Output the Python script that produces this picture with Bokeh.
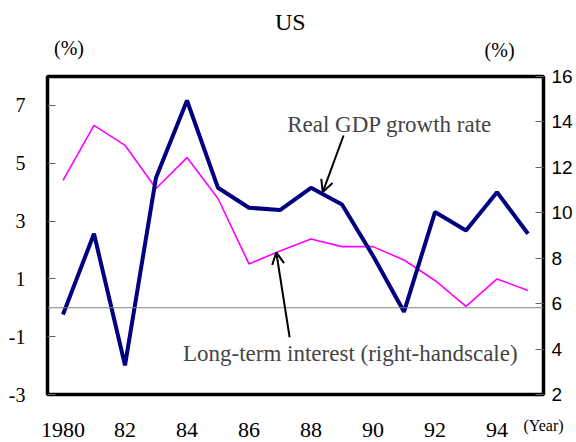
from bokeh.plotting import figure
from bokeh.layouts import column
from bokeh.models import (Range1d, LinearAxis, FixedTicker, Span, Label, Arrow,
                          OpenHead, ColumnDataSource)
from bokeh.core.properties import value
from bokeh.embed import file_html
from bokeh.resources import INLINE

years = list(range(1980, 1996))
gdp_growth = [-0.23, 2.56, -1.99, 4.50, 7.17, 4.15, 3.46, 3.38, 4.15, 3.57,
              1.8, -0.14, 3.31, 2.67, 4.00, 2.56]
long_rate = [11.43, 13.85, 12.97, 11.07, 12.43, 10.63, 7.75, 8.32, 8.85, 8.51,
             8.51, 7.92, 7.02, 5.88, 7.09, 6.58]
x_ticks = [1980, 1982, 1984, 1986, 1988, 1990, 1992, 1994]
x_tick_labels = ["1980", "82", "84", "86", "88", "90", "92", "94"]
left_ticks = [-3, -1, 1, 3, 5, 7]
left_tick_labels = ["-3", "-1", "1", "3", "5", "7"]
right_ticks = [2, 4, 6, 8, 10, 12, 14, 16]
title_text = "US"
unit_text = "(%)"
year_text = "(Year)"

SERIF = "Liberation Serif"
SANS = "Liberation Sans"
W = 576
HDR_H = 64

# ---- header (title and unit markers) ----
hdr = figure(width=W, height=HDR_H, output_backend="svg", toolbar_location=None,
             x_range=Range1d(0, W), y_range=Range1d(HDR_H, 0),
             x_axis_type=None, y_axis_type=None, min_border=0)
hdr.grid.visible = False
hdr.outline_line_color = None
hdr.text(x=[282], y=[21], text=[title_text], text_font=value(SERIF),
         text_font_size="24px", text_align="center", text_baseline="middle",
         text_color="black")
hdr.text(x=[25, 525], y=[47, 49], text=[unit_text, unit_text], text_font=value(SERIF),
         text_font_size="20px", text_align="center", text_baseline="middle",
         text_color="black")

# ---- main chart ----
src = ColumnDataSource(dict(year=years, gdp=gdp_growth, rate=long_rate))

p = figure(width=W, height=442 - HDR_H, output_backend="svg", toolbar_location=None,
           x_range=Range1d(1979.5, 1995.5), y_range=Range1d(-3, 8),
           min_border_left=47, min_border_right=33, min_border_top=12,
           min_border_bottom=48, x_axis_location="below")
p.extra_y_ranges = {"right": Range1d(2, 16)}
p.grid.visible = False
p.outline_line_color = "black"
p.outline_line_width = 3.5

# x axis
xa = p.xaxis[0]
xa.axis_line_color = None
xa.major_tick_line_color = None
xa.minor_tick_line_color = None
xa.major_label_standoff = 22
xa.major_label_text_font = SERIF
xa.major_label_text_font_size = "22px"
xa.major_label_text_color = "black"
if "axis_label_align" in xa.properties():
    xa.ticker = FixedTicker(ticks=x_ticks)
    xa.major_label_overrides = {t: l for t, l in zip(x_ticks, x_tick_labels)}
    xa.axis_label = year_text
    xa.axis_label_align = "end"
    xa.axis_label_standoff = -23
    xa.axis_label_text_font = SERIF
    xa.axis_label_text_font_size = "16px"
    xa.axis_label_text_font_style = "normal"
    xa.axis_label_text_color = "black"
else:
    xa.ticker = FixedTicker(ticks=x_ticks + [1995.5])
    labels = {t: l for t, l in zip(x_ticks, x_tick_labels)}
    labels[1995.5] = year_text
    xa.major_label_overrides = labels

# left axis
ya = p.yaxis[0]
ya.ticker = FixedTicker(ticks=left_ticks)
ya.major_label_overrides = {t: l for t, l in zip(left_ticks, left_tick_labels)}
ya.axis_line_color = None
ya.major_tick_in = 8
ya.major_tick_out = 0
ya.major_tick_line_color = "#666666"
ya.minor_tick_line_color = None
ya.major_label_standoff = 22
ya.major_label_text_font = SERIF
ya.major_label_text_font_size = "20px"
ya.major_label_text_color = "black"

# right axis
ra = LinearAxis(y_range_name="right", ticker=FixedTicker(ticks=right_ticks))
ra.axis_line_color = None
ra.major_tick_in = 8
ra.major_tick_out = 0
ra.major_tick_line_color = "#666666"
ra.minor_tick_line_color = None
ra.major_label_standoff = 8
ra.major_label_text_font = SANS
ra.major_label_text_font_size = "19px"
ra.major_label_text_color = "black"
p.add_layout(ra, "right")

# zero line
p.add_layout(Span(location=0, dimension="width", line_color="#808080", line_width=1.2))

# series
p.line("year", "rate", source=src, y_range_name="right", line_color="#FF00FF", line_width=1.6)
p.line("year", "gdp", source=src, line_color="#000080", line_width=4)

# annotations
p.add_layout(Label(x=1987.23, y=6.34, text="Real GDP growth rate", text_font=SERIF,
                   text_font_size="23px", text_align="left", text_baseline="middle"))
p.add_layout(Label(x=1983.87, y=-1.57, text="Long-term interest (right-handscale)",
                   text_font=SERIF, text_font_size="23px", text_align="left",
                   text_baseline="middle"))
p.add_layout(Arrow(x_start=1989.05, y_start=5.96, x_end=1988.38, y_end=4.0,
                   line_width=2, line_color="black",
                   end=OpenHead(size=12, line_width=2, line_color="black")))
p.add_layout(Arrow(x_start=1987.31, y_start=-1.02, x_end=1986.88, y_end=1.92,
                   line_width=2, line_color="black",
                   end=OpenHead(size=12, line_width=2, line_color="black")))

layout = column(hdr, p, spacing=0)
open("out.html", "w").write(file_html(layout, INLINE))
